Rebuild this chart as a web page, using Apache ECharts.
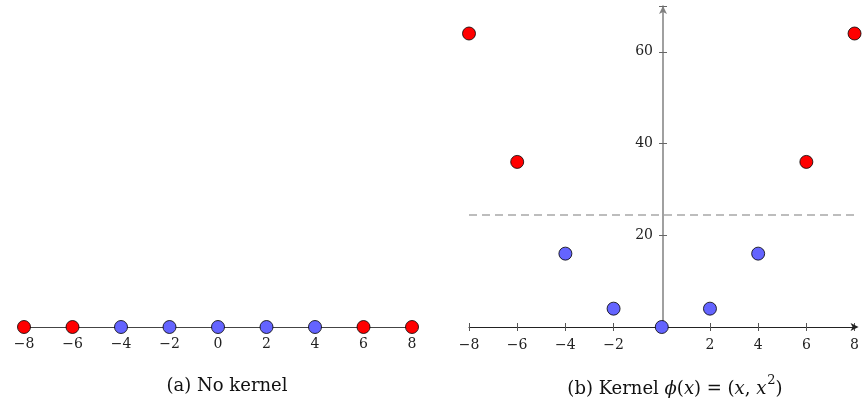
<!DOCTYPE html>
<html>
<head>
<meta charset="utf-8">
<script src="https://cdn.jsdelivr.net/npm/echarts@6/dist/echarts.min.js"></script>
<style>
  html, body { margin: 0; padding: 0; background: #fff; }
  #chart { width: 862px; height: 402px; }
</style>
</head>
<body>
<div id="chart"></div>
<script>
// data
const xValues = [-8, -6, -4, -2, 0, 2, 4, 6, 8];
const xSquared = [64, 36, 16, 4, 0, 4, 16, 36, 64];
const outerClass = [true, true, false, false, false, false, false, true, true];
const xTicks = [-8, -6, -4, -2, 0, 2, 4, 6, 8];
const yTicks = [20, 40, 60];
const threshold = 24.5;

const RED = "#ff0000";
const BLUE = "#6464ff";
const FONT = "DejaVu Serif";
// y axis of right panel sits at x = 0, i.e. 194px right of the grid's left edge
const Y_SHIFT = -194;

const fmt = v => (v < 0 ? "\u2212" + Math.abs(v) : String(v));

function pts(ys) {
  return xValues.map((x, i) => ({
    value: [x, ys[i]],
    itemStyle: { color: outerClass[i] ? RED : BLUE }
  }));
}

const chart = echarts.init(document.getElementById("chart"));

const capStyle = { fontFamily: FONT, fontSize: 18, fontWeight: "normal", color: "#111" };

chart.setOption({
  animation: false,
  title: [
    {
      text: "(a) No kernel",
      left: 222, top: 372, textAlign: "center",
      textStyle: capStyle
    },
    {
      text: "{n|(b) Kernel }{i|\u03d5}{n|(}{i|x}{n|) = (}{i|x}{n|,}{i| x}{s|2}{n|)}",
      left: 670, top: 367, textAlign: "center",
      textStyle: {
        fontWeight: "normal",
        rich: {
          n: Object.assign({}, capStyle, { lineHeight: 26, verticalAlign: "bottom" }),
          i: Object.assign({}, capStyle, { fontStyle: "italic", lineHeight: 26, verticalAlign: "bottom" }),
          s: Object.assign({}, capStyle, { fontSize: 13, lineHeight: 26, verticalAlign: "top", padding: [2, 0, 0, 1] })
        }
      }
    }
  ],
  grid: [
    { left: 24, width: 388, top: 307, height: 20 },
    { left: 469, width: 388, top: 6, bottom: 75 }
  ],
  xAxis: [
    {
      gridIndex: 0, type: "value", min: -8, max: 8, interval: 2,
      axisLine: { onZero: false, lineStyle: { color: "#444", width: 1.2 } },
      axisTick: { show: false },
      splitLine: { show: false },
      axisLabel: { formatter: fmt, fontFamily: FONT, fontSize: 14, color: "#222", margin: 10 }
    },
    {
      gridIndex: 1, type: "value", min: -8, max: 8, interval: 2,
      axisLine: { onZero: false, symbol: ["none", "arrow"], symbolSize: [6, 8], symbolOffset: [0, 4],
        lineStyle: { color: "#222", width: 1 } },
      axisTick: { show: false },
      splitLine: { show: false },
      axisLabel: { formatter: v => (v === 0 ? "" : fmt(v)), fontFamily: FONT, fontSize: 14, color: "#222", margin: 11 }
    },
    {
      // ticks crossing the x axis
      gridIndex: 1, type: "value", min: -8, max: 8, interval: 2, position: "bottom", offset: -4,
      axisLine: { show: true, onZero: false, lineStyle: { color: "rgba(0,0,0,0)" } },
      axisTick: { show: true, length: 8, lineStyle: { color: "#555" } },
      axisLabel: { show: false },
      splitLine: { show: false }
    }
  ],
  yAxis: [
    { gridIndex: 0, type: "value", min: 0, max: 1, show: false },
    {
      gridIndex: 1, type: "value", min: 0, max: 70, interval: 20, position: "left", offset: Y_SHIFT,
      axisLine: { show: true, onZero: false, symbol: ["none", "arrow"], symbolSize: [6, 8],
        lineStyle: { color: "#808080", width: 1.5 } },
      axisTick: { show: false },
      splitLine: { show: false },
      axisLabel: {
        formatter: v => (yTicks.indexOf(v) >= 0 ? String(v) : ""),
        fontFamily: FONT, fontSize: 14, color: "#222", margin: 10
      }
    },
    {
      // ticks crossing the y axis
      gridIndex: 1, type: "value", min: 0, max: 70, interval: 20, position: "left", offset: Y_SHIFT - 4,
      axisLine: { show: true, onZero: false, lineStyle: { color: "rgba(0,0,0,0)" } },
      axisTick: { show: true, length: 8, lineStyle: { color: "#666" } },
      axisLabel: { show: false },
      splitLine: { show: false }
    }
  ],
  series: [
    {
      type: "scatter", xAxisIndex: 0, yAxisIndex: 0,
      symbolSize: 13,
      itemStyle: { borderColor: "#000", borderWidth: 0.8, opacity: 1 },
      data: pts(xValues.map(() => 0)),
      z: 5
    },
    {
      type: "scatter", xAxisIndex: 1, yAxisIndex: 1,
      symbolSize: 13,
      itemStyle: { borderColor: "#000", borderWidth: 0.8, opacity: 1 },
      data: pts(xSquared),
      z: 5,
      markLine: {
        silent: true, symbol: "none", label: { show: false },
        lineStyle: { type: [8, 5], color: "#a8a8a8", width: 1.5 },
        data: [{ yAxis: threshold }]
      }
    }
  ]
});
</script>
</body>
</html>
